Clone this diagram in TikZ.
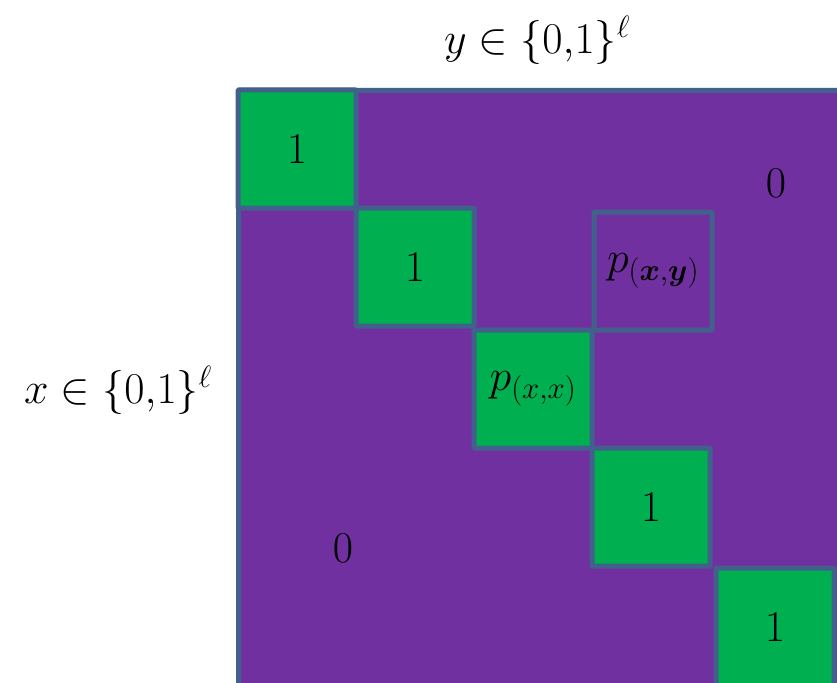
\RequirePackage{fix-cm}
\documentclass[tikz,border=0pt]{standalone}
\usepackage{amsmath,amssymb,bm}
\usepackage{xcolor}
\usepackage{tikz}
\definecolor{cellpurple}{HTML}{7030A0}
\definecolor{cellgreen}{HTML}{00B050}
\definecolor{cellline}{HTML}{41618C}
\tikzset{
  mbox/.style={draw=cellline,fill=cellpurple,line width=5pt,rounded corners=2pt,inner sep=0pt,outer sep=0pt},
  gcell/.style={draw=cellline,fill=cellgreen,line width=5pt,minimum size=118pt,inner sep=0pt,rounded corners=1pt},
  pcell/.style={draw=cellline,line width=5pt,minimum size=118pt,inner sep=0pt,rounded corners=1pt},
  vlbl/.style={inner sep=0pt}
}

\begin{document}
\begin{tikzpicture}[x=1pt,y=-1pt,font=\fontsize{44}{48}\selectfont]
  \useasboundingbox (0,0) rectangle (837,682);
  \clip (0,0) rectangle (837,682);
  \node[mbox,minimum width=620pt,minimum height=620pt,anchor=north west] (m) at (238.5,90.5) {};
  \node[gcell] (d1) at (297,149) {$1$};
  \node[gcell] (d2) at (415,267) {$1$};
  \node[gcell] (d3) at (533,389) {$p_{(x,x)}$};
  \node[gcell] (d4) at (651,507) {$1$};
  \node[gcell] (d5) at (775,627) {$1$};
  \node[pcell] (pxy) at (653,271) {$p_{(\bm{x},\bm{y})}$};
  \node[vlbl] (zu) at (776,183) {$0$};
  \node[vlbl] (zl) at (343,548) {$0$};
  \node[vlbl] (ly) at (537,40) {$y\in\{0{,}1\}^{\ell}$};
  \node[vlbl] (lx) at (118,390) {$x\in\{0{,}1\}^{\ell}$};
\end{tikzpicture}
\end{document}
